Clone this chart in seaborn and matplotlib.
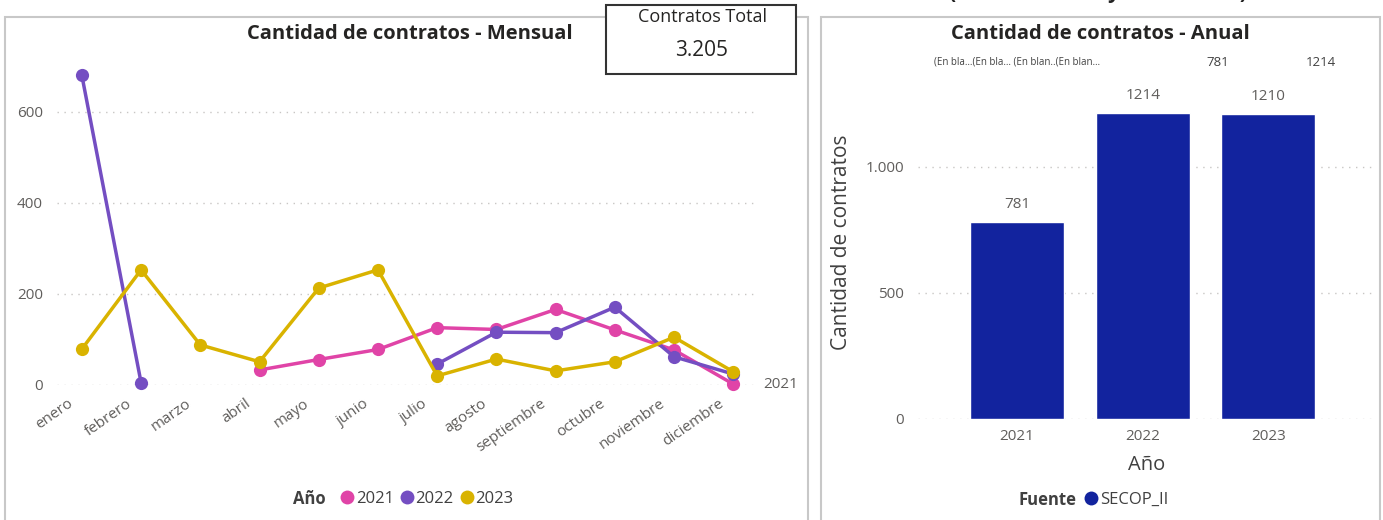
import matplotlib
matplotlib.use("Agg")
import matplotlib.pyplot as plt
from matplotlib.patches import Rectangle
from matplotlib.lines import Line2D
from matplotlib.ticker import FuncFormatter
from matplotlib.transforms import ScaledTranslation
import numpy as np
import pandas as pd
import seaborn as sns

# datos
meses = ["enero", "febrero", "marzo", "abril", "mayo", "junio", "julio",
         "agosto", "septiembre", "octubre", "noviembre", "diciembre"]
anios = ["2021", "2022", "2023"]
nan = np.nan
contratos_2021 = [nan, nan, nan, 33, 56, 78, 126, 122, 166, 121, 77, 2]
contratos_2022 = [680, 5, nan, nan, nan, nan, 46, 116, 115, 171, 62, 24]
contratos_2023 = [79, 253, 88, 51, 213, 253, 20, 57, 31, 51, 105, 29]
total_anual = [781, 1214, 1210]
total_contratos = 3205
fuente = "SECOP_II"
etiquetas_arriba = ["(En bla…(En bla… (En blan..(En blan…", "781", "1214"]

colores = {"2021": "#E044A7", "2022": "#744EC2", "2023": "#D9B300"}
azul = "#12239E"
gris = "#605E5C"
gris_osc = "#404040"

W, H = 1383, 520

def fx(x):
    return x / W

def fy(y):
    return 1 - y / H

sns.set_theme(style="white")
plt.rcParams["font.family"] = ["Open Sans", "DejaVu Sans"]

# tabla larga, cortando la linea donde no hay datos
filas = []
for anio, vals in zip(anios, [contratos_2021, contratos_2022, contratos_2023]):
    tramo = 0
    previo = False
    for i, v in enumerate(vals):
        if np.isnan(v):
            if previo:
                tramo += 1
            previo = False
            continue
        filas.append({"mes": i, "valor": v, "Año": anio, "tramo": f"{anio}-{tramo}"})
        previo = True
df = pd.DataFrame(filas)

fig = plt.figure(figsize=(W / 100, H / 100), dpi=100)

# marcos de los paneles
for x0, x1 in [(5, 808), (821, 1380)]:
    fig.add_artist(Rectangle((fx(x0), fy(530)), fx(x1 - x0), (530 - 17) / H,
                             transform=fig.transFigure, fill=False,
                             ec="#C8C8C8", lw=1.5))

# texto recortado arriba (solo se ven los trazos inferiores)
fig.text(fx(1098), fy(-2), "(Total mensual y total anual)", ha="center",
         va="baseline", fontsize=15, fontweight="bold", color="#222222")

# ---- mensual
ax1 = fig.add_axes([fx(57), fy(385), fx(754 - 57), (385 - 55) / H])
sns.lineplot(data=df, x="mes", y="valor", hue="Año", units="tramo",
             estimator=None, palette=colores, marker="o", markersize=9.5,
             markeredgewidth=0, linewidth=2.5, ax=ax1, legend=False)
for l in ax1.lines:
    l.set_clip_on(False)
ax1.set_xlim(-0.42, 11.35)
ax1.set_ylim(0, 725)
ax1.set_yticks([0, 200, 400, 600])
ax1.set_xticks(range(len(meses)))
ax1.set_xticklabels(meses, rotation=35, ha="right", rotation_mode="anchor")
ax1.tick_params(axis="x", colors=gris, labelsize=11, pad=8, length=0)
ax1.tick_params(axis="y", colors=gris, labelsize=11, pad=10, length=0)
desplazo = ScaledTranslation(-15 / 100, 0, fig.dpi_scale_trans)
for lab in ax1.get_xticklabels():
    lab.set_transform(lab.get_transform() + desplazo)
ax1.yaxis.grid(True, linestyle=(0, (1, 4)), color="#C8C6C4", lw=1)
ax1.set_axisbelow(True)
for s in ax1.spines.values():
    s.set_visible(False)
ax1.set_xlabel("")
ax1.set_ylabel("")
ax1.text(1.013, 0, "2021", transform=ax1.get_yaxis_transform(), ha="left",
         va="center", fontsize=11, color=gris)

fig.text(fx(410), fy(34), "Cantidad de contratos - Mensual", ha="center",
         va="center", fontsize=14.5, fontweight="bold", color="#252423")

# leyenda mensual
fig.text(fx(326), fy(499), "Año", ha="right", va="center", fontsize=12,
         fontweight="bold", color=gris_osc)
manejadores = [Line2D([], [], ls="", marker="o", ms=10, mew=0, color=colores[a])
               for a in anios]
fig.legend(manejadores, anios, loc="center left", bbox_to_anchor=(fx(339), fy(499)),
           ncol=3, frameon=False, handletextpad=0.0, columnspacing=0.3,
           handlelength=1.0, fontsize=12, labelcolor=gris_osc, borderaxespad=0,
           borderpad=0)

# tarjeta total
fig.add_artist(Rectangle((fx(606), fy(74)), fx(796 - 606), (74 - 5) / H,
                         transform=fig.transFigure, fc="white", ec="#333333",
                         lw=1.5, zorder=5))
fig.text(fx(702), fy(17), "Contratos Total", ha="center", va="center",
         fontsize=13, color="#252423", zorder=6)
fig.text(fx(702), fy(51), f"{total_contratos:,}".replace(",", "."), ha="center",
         va="center", fontsize=15, color="#252423", zorder=6)

# ---- anual
ax2 = fig.add_axes([fx(918), fy(419), fx(1375 - 918), (419 - 80) / H])
sns.barplot(x=anios, y=total_anual, color=azul, width=0.75, saturation=1, ax=ax2)
ax2.bar_label(ax2.containers[0], padding=7, color=gris, fontsize=11)
ax2.set_xlim(-0.79, 2.85)
ax2.set_ylim(0, 1345)
ax2.set_yticks([0, 500, 1000])
ax2.yaxis.set_major_formatter(FuncFormatter(lambda v, p: f"{int(v):,}".replace(",", ".")))
ax2.tick_params(axis="x", colors=gris, labelsize=11, pad=7, length=0)
ax2.tick_params(axis="y", colors=gris, labelsize=11, pad=10, length=0)
ax2.yaxis.grid(True, linestyle=(0, (1, 4)), color="#C8C6C4", lw=1)
ax2.set_axisbelow(True)
for s in ax2.spines.values():
    s.set_visible(False)
ax2.set_xlabel("Año", fontsize=14.5, color=gris_osc, labelpad=8)
ax2.set_ylabel("Cantidad de contratos", fontsize=15, color=gris_osc)
ax2.yaxis.set_label_coords(-0.144, 0.52)

fig.text(fx(1100), fy(34), "Cantidad de contratos - Anual", ha="center",
         va="center", fontsize=14.5, fontweight="bold", color="#252423")
fig.text(fx(1100), fy(62), etiquetas_arriba[0], ha="right", va="center",
         fontsize=7, color="#404040")
fig.text(fx(1218), fy(62), etiquetas_arriba[1], ha="center", va="center",
         fontsize=9.5, color="#404040")
fig.text(fx(1321), fy(62), etiquetas_arriba[2], ha="center", va="center",
         fontsize=9.5, color="#404040")

# leyenda anual
fig.text(fx(1077), fy(500), "Fuente", ha="right", va="center", fontsize=12,
         fontweight="bold", color=gris_osc)
fig.legend([Line2D([], [], ls="", marker="o", ms=10, mew=0, color=azul)], [fuente],
           loc="center left", bbox_to_anchor=(fx(1083), fy(500)), frameon=False,
           handletextpad=0.0, handlelength=1.0, fontsize=12, labelcolor=gris_osc,
           borderaxespad=0, borderpad=0)

fig.savefig("out.png", dpi=100)
